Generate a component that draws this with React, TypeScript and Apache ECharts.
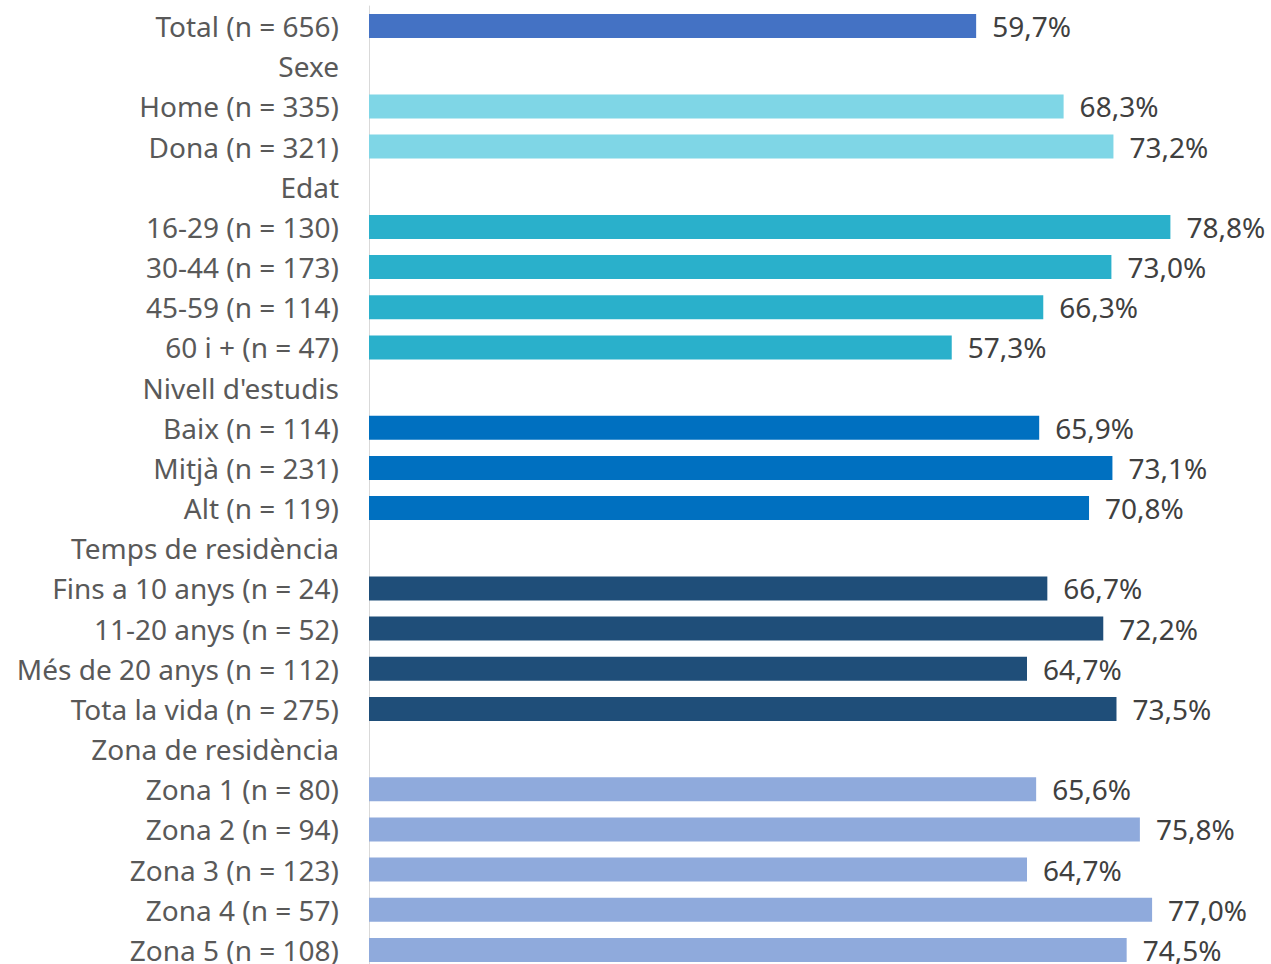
import React, { useEffect, useRef } from "react";
import * as echarts from "echarts";

const categories = [
  "Total (n = 656)",
  "Sexe",
  "Home (n = 335)",
  "Dona (n = 321)",
  "Edat",
  "16-29 (n = 130)",
  "30-44 (n = 173)",
  "45-59 (n = 114)",
  "60 i + (n = 47)",
  "Nivell d'estudis",
  "Baix (n = 114)",
  "Mitjà (n = 231)",
  "Alt (n = 119)",
  "Temps de residència",
  "Fins a 10 anys (n = 24)",
  "11-20 anys (n = 52)",
  "Més de 20 anys (n = 112)",
  "Tota la vida (n = 275)",
  "Zona de residència",
  "Zona 1 (n = 80)",
  "Zona 2 (n = 94)",
  "Zona 3 (n = 123)",
  "Zona 4 (n = 57)",
  "Zona 5 (n = 108)",
];

const values: (number | null)[] = [
  59.7,
  null, 68.3, 73.2,
  null, 78.8, 73.0, 66.3, 57.3,
  null, 65.9, 73.1, 70.8,
  null, 66.7, 72.2, 64.7, 73.5,
  null, 65.6, 75.8, 64.7, 77.0, 74.5,
];

// group index per row
const groups = [0, 1, 1, 1, 2, 2, 2, 2, 2, 3, 3, 3, 3, 4, 4, 4, 4, 4, 5, 5, 5, 5, 5, 5];
const groupColors = ["#4472C4", "#7FD6E6", "#2AB0CB", "#0070C0", "#1F4E79", "#8FAADC"];

const FONT = "Noto Sans";

export default function App() {
  const ref = useRef<HTMLDivElement>(null);
  useEffect(() => {
    const chart = echarts.init(ref.current!, undefined, { renderer: "svg" });
    chart.setOption({
      animation: false,
      grid: {
        left: 369,
        top: 6,
        right: -115,
        bottom: -6,
        containLabel: false,
        outerBoundsMode: "none",
      },
      xAxis: {
        type: "value",
        min: 0,
        max: 100,
        show: false,
      },
      yAxis: {
        type: "category",
        inverse: true,
        data: categories,
        axisLine: { show: true, lineStyle: { color: "#D9D9D9", width: 1 } },
        axisTick: { show: false },
        axisLabel: {
          color: "#595959",
          fontFamily: FONT,
          fontSize: 28,
          margin: 30,
        },
      },
      series: [
        {
          type: "bar",
          barWidth: 24,
          data: values.map((v, i) => ({
            value: v,
            itemStyle: { color: groupColors[groups[i]] },
          })),
          label: {
            show: true,
            position: "right",
            distance: 16,
            color: "#404040",
            fontFamily: FONT,
            fontSize: 28,
            formatter: (p: any) =>
              p.value == null ? "" : p.value.toFixed(1).replace(".", ",") + "%",
          },
        },
      ],
    });
    return () => chart.dispose();
  }, []);
  return (
    <div
      ref={ref}
      style={{ position: "absolute", left: 0, top: 0, width: 1271, height: 964 }}
    />
  );
}
